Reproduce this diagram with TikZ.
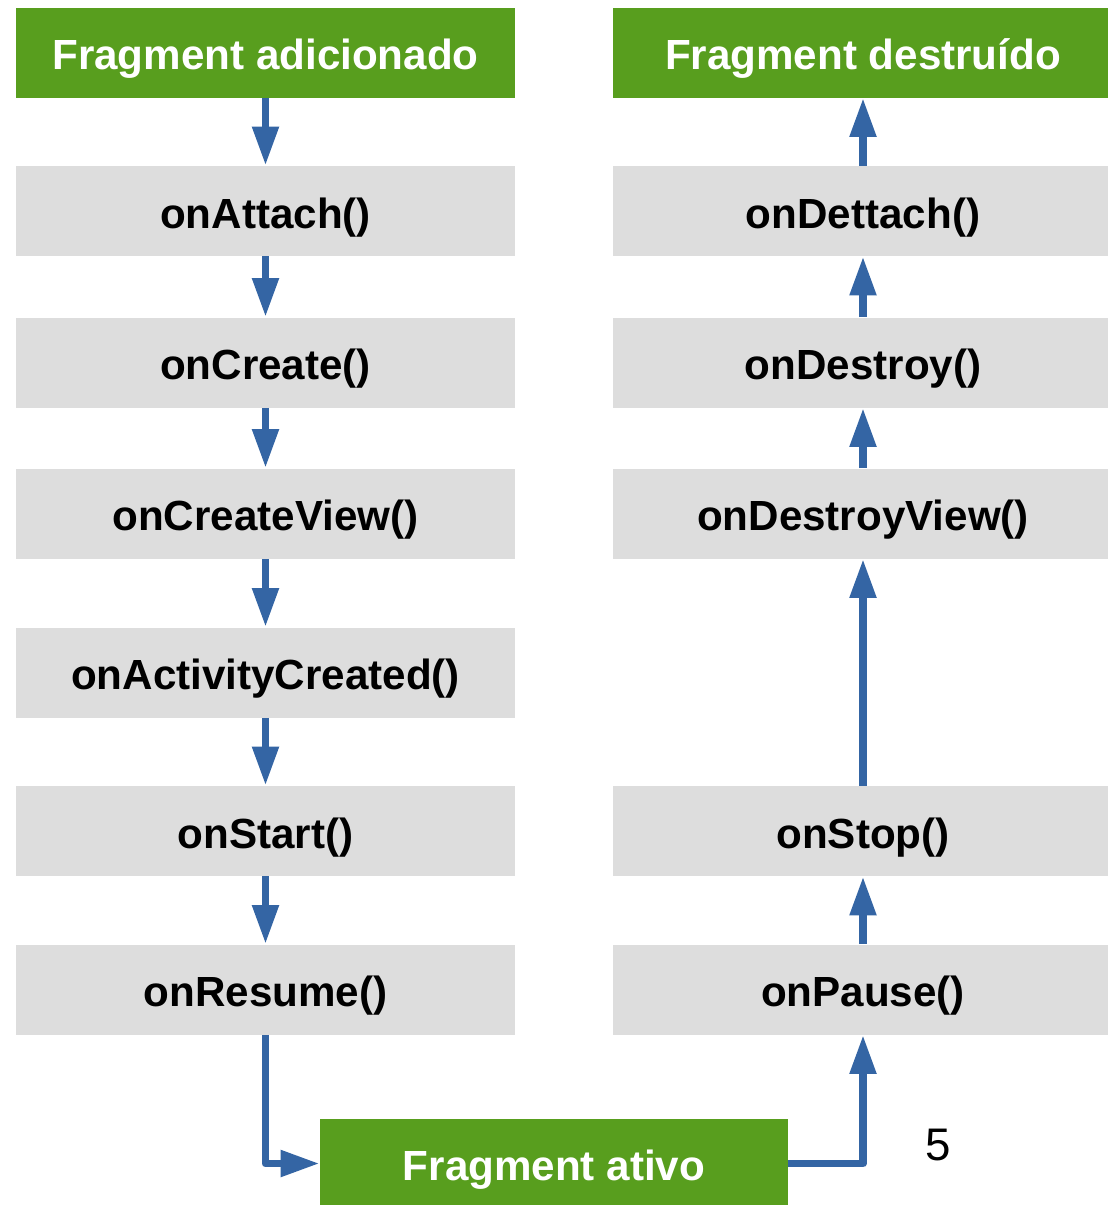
\documentclass[tikz,border=0pt]{standalone}
\usepackage{fontspec}
\setmainfont{Liberation Sans}
\usetikzlibrary{arrows.meta}

\definecolor{leafgreen}{HTML}{589E1E}
\definecolor{boxgray}{HTML}{DDDDDD}
\definecolor{flowblue}{HTML}{3465A4}

\begin{document}
\begin{tikzpicture}[x=0.02cm, y=-0.02cm,
    callbox/.style={rectangle, fill=boxgray, minimum width=10cm, minimum height=1.8cm, inner sep=0pt,
        text height=19.7pt, text depth=0pt, font=\fontsize{24}{28}\selectfont\bfseries},
    statebox/.style={callbox, fill=leafgreen, text=white},
    flow/.style={draw=flowblue, line width=4.5pt, line join=round,
        -{Triangle[length=0.78cm, width=0.5cm]}}]
    \useasboundingbox (0,0) rectangle (1107,1205);

				% left column
				\node[statebox] (added) at (265.5,52.5) {Fragment adicionado};
				\node[callbox] (attach) at (265.5,211) {onAttach()};
				\draw[flow] (added) -- (attach);
				\node[callbox] (create) at (265.5,362.5) {onCreate()};
				\draw[flow] (attach) -- (create);
				\node[callbox] (createview) at (265.5,513.5) {onCreateView()};
				\draw[flow] (create) -- (createview);
				\node[callbox] (activitycreated) at (265.5,672.5) {onActivityCreated()};
				\draw[flow] (createview) -- (activitycreated);
				\node[callbox] (start) at (265.5,831) {onStart()};
				\draw[flow] (activitycreated) -- (start);
				\node[callbox] (resume) at (265.5,989.5) {onResume()};
				\draw[flow] (start) -- (resume);

				% active state
				\node[statebox, minimum width=9.36cm] (active) at (554,1163.5) {Fragment ativo};
				\draw[flow] (resume.south) |- (active.west);

				% right column
				\node[callbox] (pause) at (863,989.5) {onPause()};
				\draw[flow] (active.east) -| (pause.south);
				\node[callbox] (stop) at (863,831) {onStop()};
				\draw[flow] (pause) -- (stop);
				\node[callbox] (destroyview) at (863,513.5) {onDestroyView()};
				\draw[flow] (stop) -- (destroyview);
				\node[callbox] (destroy) at (863,362.5) {onDestroy()};
				\draw[flow] (destroyview) -- (destroy);
				\node[callbox] (dettach) at (863,211) {onDettach()};
				\draw[flow] (destroy) -- (dettach);
				\node[statebox] (destroyed) at (863,52.5) {Fragment destruído};
				\draw[flow] (dettach) -- (destroyed);

				\node[font=\fontsize{26}{30}\selectfont] (num) at (938,1145) {5};
\end{tikzpicture}
\end{document}
